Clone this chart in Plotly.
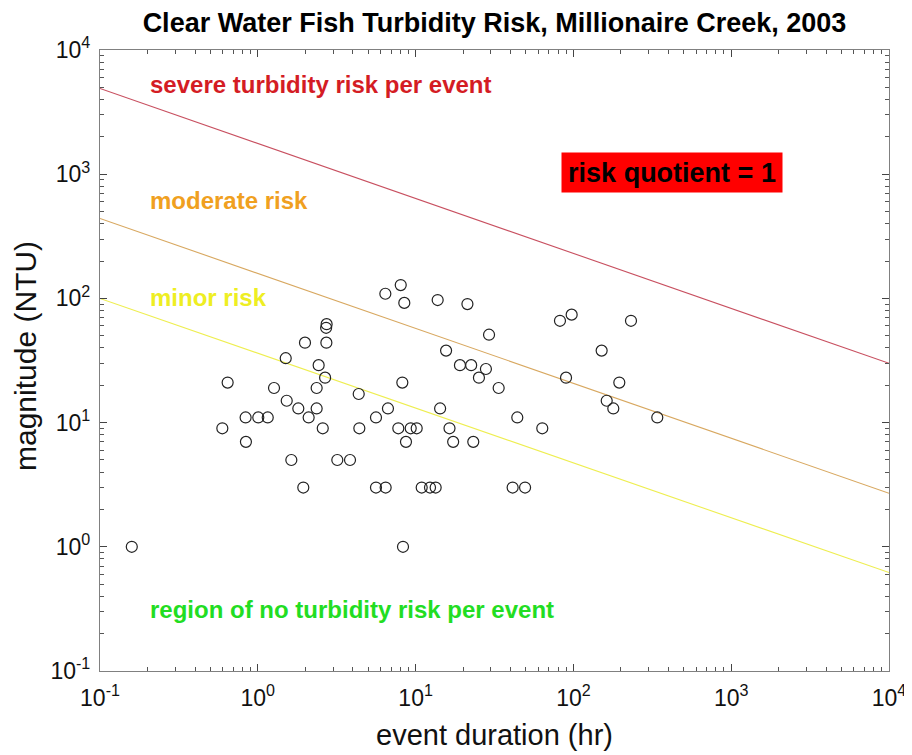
import plotly.graph_objects as go

# ---- data ----
duration_hr = [0.159, 0.596, 0.644, 0.837, 0.841, 1.007, 1.156, 1.267, 1.503, 1.525,
               1.631, 1.806, 1.942, 1.991, 2.10, 2.36, 2.36, 2.43, 2.58, 2.67,
               2.72, 2.73, 2.71, 3.19, 3.84, 4.36, 4.40, 5.61, 5.61, 8.32,
               8.05, 6.43, 8.48, 13.8, 21.3, 29.2, 15.6, 19.1, 22.5, 27.9,
               25.2, 33.6, 8.24, 6.68, 14.3, 7.77, 9.31, 10.16, 16.4, 8.69,
               17.3, 23.2, 44.1, 63.5, 82.2, 97.5, 231.7, 151, 89.8, 195.4,
               162.6, 179, 340, 6.46, 10.93, 12.34, 13.40, 41.2, 49.4]
magnitude_ntu = [1, 9, 21, 11, 7, 11, 11, 19, 33, 15,
                 5, 13, 3, 44, 11, 19, 13, 29, 9, 23,
                 44, 62, 58, 5, 5, 17, 9, 11, 3, 1,
                 128, 109, 92, 97, 90, 51, 38, 29, 29, 27,
                 23, 19, 21, 13, 13, 9, 9, 9, 9, 7,
                 7, 7, 11, 9, 66, 74, 66, 38, 23, 21,
                 15, 13, 11, 3, 3, 3, 3, 3, 3]

risk_x = [0.1, 1e4]
severe_y = [4900, 30]
moderate_y = [440, 2.7]
minor_y = [100, 0.62]

x_tickvals = [0.1, 1, 10, 100, 1000, 10000]
x_ticktext = ["10<sup>-1</sup>", "10<sup>0</sup>", "10<sup>1</sup>", "10<sup>2</sup>",
              "10<sup>3</sup>", "10<sup>4</sup>"]
y_tickvals = [0.1, 1, 10, 100, 1000, 10000]
y_ticktext = ["10<sup>-1</sup>", "10<sup>0</sup>", "10<sup>1</sup>", "10<sup>2</sup>",
              "10<sup>3</sup>", "10<sup>4</sup>"]
minor_vals = [k * 10.0 ** e for e in range(-1, 4) for k in range(2, 10)]

FONT = "Liberation Sans, Arial, sans-serif"

# the page body has an 8px margin, so the figure is sized/margined to compensate
OFF = 8
W, H = 912 - OFF, 755 - OFF

fig = go.Figure()
fig.add_trace(go.Scatter(x=risk_x, y=severe_y, mode="lines",
                         line=dict(color="#c85060", width=1.1), hoverinfo="skip"))
fig.add_trace(go.Scatter(x=risk_x, y=moderate_y, mode="lines",
                         line=dict(color="#d8a860", width=1.1), hoverinfo="skip"))
fig.add_trace(go.Scatter(x=risk_x, y=minor_y, mode="lines",
                         line=dict(color="#eeee50", width=1.1), hoverinfo="skip"))
fig.add_trace(go.Scatter(x=duration_hr, y=magnitude_ntu, mode="markers",
                         marker=dict(symbol="circle-open", size=11, color="#222222",
                                     line=dict(width=1.2, color="#222222"))))

axis_common = dict(
    type="log", showgrid=False, zeroline=False, automargin=False,
    showline=True, linecolor="#808080", linewidth=1.2, mirror="ticks",
    ticks="inside", ticklen=7, tickcolor="#444444", tickwidth=1,
    tickfont=dict(family=FONT, size=23, color="#111111"),
    minor=dict(ticks="inside", ticklen=4, tickcolor="#555555", tickmode="array",
               tickvals=minor_vals, showgrid=False),
)

fig.update_xaxes(**axis_common, range=[-1, 4], tickmode="array",
                 tickvals=x_tickvals, ticktext=x_ticktext, ticklabelstandoff=6)
fig.update_yaxes(**axis_common, range=[-1, 4], tickmode="array",
                 tickvals=y_tickvals, ticktext=y_ticktext, ticklabelstandoff=4)

# axis titles
fig.add_annotation(text="event duration (hr)", xref="paper", yref="paper",
                   x=0.5, y=-(735 - 671) / 621, xanchor="center", yanchor="middle",
                   showarrow=False, font=dict(family=FONT, size=29, color="#111111"))
fig.add_annotation(text="magnitude (NTU)", xref="paper", yref="paper",
                   x=-(100 - 25) / 789, y=(671 - 356) / 621, xanchor="center",
                   yanchor="middle", textangle=-90, showarrow=False,
                   font=dict(family=FONT, size=30, color="#111111"))

ann_font = dict(family=FONT, size=24)
annotations = [
    dict(text="<b>severe turbidity risk per event</b>", x=0.0608, y=0.945,
         font=dict(**ann_font, color="#d41c24")),
    dict(text="<b>moderate risk</b>", x=0.0608, y=0.758,
         font=dict(**ann_font, color="#f0a020")),
    dict(text="<b>minor risk</b>", x=0.0608, y=0.601,
         font=dict(**ann_font, color="#eeee22")),
    dict(text="<b>region of no turbidity risk per event</b>", x=0.0608, y=0.0998,
         font=dict(**ann_font, color="#22dd22")),
]
for a in annotations:
    fig.add_annotation(xref="paper", yref="paper", xanchor="left", yanchor="middle",
                       showarrow=False, **a)

fig.add_annotation(text="<b>risk quotient = 1</b>", xref="paper", yref="paper",
                   x=0.725, y=0.802, xanchor="center", yanchor="middle",
                   showarrow=False, bgcolor="#ff0000", borderpad=4,
                   width=212, height=31,
                   font=dict(family=FONT, size=27, color="#000000"))

fig.update_layout(
    width=W, height=H,
    margin=dict(l=100 - OFF, r=23, t=50 - OFF, b=84, autoexpand=False),
    paper_bgcolor="white", plot_bgcolor="white",
    showlegend=False,
    title=dict(text="<b>Clear Water Fish Turbidity Risk, Millionaire Creek, 2003</b>",
               x=(494.5 - OFF) / W, xanchor="center", xref="container",
               y=1 - (23 - OFF) / H, yanchor="middle", yref="container",
               font=dict(family=FONT, size=27, color="#000000")),
)

fig.write_html("out.html")
